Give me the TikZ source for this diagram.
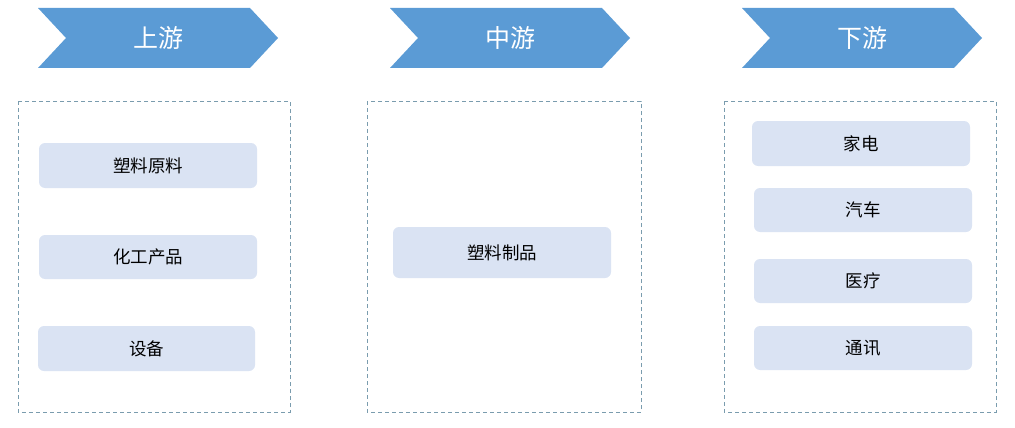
\documentclass[tikz,border=0pt]{standalone}
\usepackage{fontspec}
\usepackage{tikz}
\usepackage{xcolor}
\setmainfont{Noto Sans CJK SC}
\definecolor{headblue}{HTML}{5B9BD5}
\definecolor{itemfill}{HTML}{DAE3F3}
\definecolor{framegray}{HTML}{7A9CAE}
\tikzset{
    itembox/.style={fill=itemfill, rounded corners=6pt, inner sep=0pt},
    itemtext/.style={font=\fontsize{17.5}{21}\selectfont},
    framebox/.style={draw=framegray, dash pattern=on 4pt off 3pt, line width=0.8pt},
    headarrow/.style={fill=headblue, draw=none},
}

\begin{document}
\begin{tikzpicture}[x=1pt, y=-1pt]
    \useasboundingbox (0,0) rectangle (1015,428);

    % Header chevrons with their titles
    \foreach \xo/\name/\title in {38/up/上游, 390/mid/中游, 742/down/下游} {
        \fill[headarrow] (\xo,8) -- (\xo+212,8) -- (\xo+240,38) -- (\xo+212,68)
            -- (\xo,68) -- (\xo+28,38) -- cycle;
        \node[text=white, font=\fontsize{25}{30}\selectfont] (\name) at (\xo+120,38) {\title};
    }

    % Dashed frames
    \draw[framebox] (18,101) rectangle (290,412);
    \draw[framebox] (367,101) rectangle (641,412);
    \draw[framebox] (724,101) rectangle (996,412);

    % Upstream items
    \fill[itembox] (39,143) rectangle (257,188);
    \node[itemtext] (rawmat) at (148,165.5) {塑料原料};
    \fill[itembox] (39,235) rectangle (257,279);
    \node[itemtext] (chem) at (148,257) {化工产品};
    \fill[itembox] (38,326) rectangle (255,371);
    \node[itemtext] (equip) at (146.5,348.5) {设备};

    % Midstream item
    \fill[itembox] (393,227) rectangle (611,278);
    \node[itemtext] (plastic) at (502,252.5) {塑料制品};

    % Downstream items
    \fill[itembox] (752,121) rectangle (970,166);
    \node[itemtext] (home) at (861,143.5) {家电};
    \fill[itembox] (754,188) rectangle (972,232);
    \node[itemtext] (auto) at (863,210) {汽车};
    \fill[itembox] (754,259) rectangle (972,303);
    \node[itemtext] (med) at (863,281) {医疗};
    \fill[itembox] (754,326) rectangle (972,370);
    \node[itemtext] (comm) at (863,348) {通讯};
\end{tikzpicture}
\end{document}
